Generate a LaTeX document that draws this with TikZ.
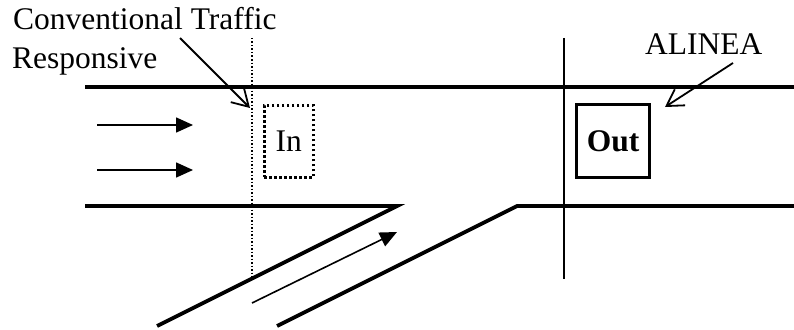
\documentclass[tikz,border=0pt]{standalone}
\usepackage{fontspec}
\setmainfont{Liberation Serif}
\usetikzlibrary{arrows.meta}
\begin{document}
\begin{tikzpicture}[x=1pt,y=-1pt,
  road/.style={line width=3.8pt},
  thin/.style={line width=1.7pt},
  flow/.style={line width=1.6pt,-{Triangle[length=17pt,width=15pt]}},
  pointer/.style={line width=1.8pt,-{Straight Barb[length=16pt,width=19pt,line width=1.8pt]}},
  lbl/.style={font=\fontsize{31.5}{38}\selectfont,inner sep=0pt},
  dots/.style={line width=1.5pt,dash pattern=on 1.5pt off 2pt},
  boxdots/.style={line width=2.6pt,dash pattern=on 2.6pt off 2.4pt}]
\useasboundingbox (0,0) rectangle (794,329);
% road edges
\coordinate (t1) at (85,87); \coordinate (t2) at (794,87);
\coordinate (b1) at (85,206); \coordinate (b2) at (397,206);
\coordinate (r1) at (157,326);
\coordinate (c1) at (517,206); \coordinate (c2) at (794,206);
\coordinate (r2) at (277,326);
\draw[road] (t1) -- (t2);
\draw[road,line join=miter] (b1) -- (b2) -- (r1);
\draw[road,line join=miter] (r2) -- (c1) -- (c2);
% detector lines
\coordinate (d1) at (252,38); \coordinate (d2) at (252,277);
\draw[dots] (d1) -- (d2);
\coordinate (v1) at (564,38); \coordinate (v2) at (564,279);
\draw[thin] (v1) -- (v2);
% boxes
\node[draw,boxdots,minimum width=49pt,minimum height=72pt,inner sep=0pt,anchor=north west] (in) at (263,104) {};
\node[lbl] (intext) at (in.center) {In};
\node[draw,line width=3.2pt,minimum width=73pt,minimum height=73pt,inner sep=0pt,anchor=north west] (out) at (575,103) {};
\node[lbl,font=\fontsize{31.5}{38}\selectfont\bfseries] (outtext) at (out.center) {Out};
% flow arrows
\coordinate (a1) at (97,125); \coordinate (a2) at (193,125);
\coordinate (a3) at (97,170); \coordinate (a4) at (193,170);
\draw[flow] (a1) -- (a2);
\draw[flow] (a3) -- (a4);
\coordinate (a5) at (252,303); \coordinate (a6) at (397,232);
\draw[flow] (a5) -- (a6);
% labels
\node[lbl,anchor=base west] (conv) at (13,30) {Conventional Traffic};
\node[lbl,anchor=base west] (resp) at (12,68) {Responsive};
\node[lbl,anchor=base west] (alinea) at (645,55) {ALINEA};
\coordinate (p1) at (180,38); \coordinate (p2) at (250,108);
\draw[pointer] (p1) -- (p2);
\coordinate (q1) at (733,63); \coordinate (q2) at (665,107);
\draw[pointer] (q1) -- (q2);
\end{tikzpicture}
\end{document}
